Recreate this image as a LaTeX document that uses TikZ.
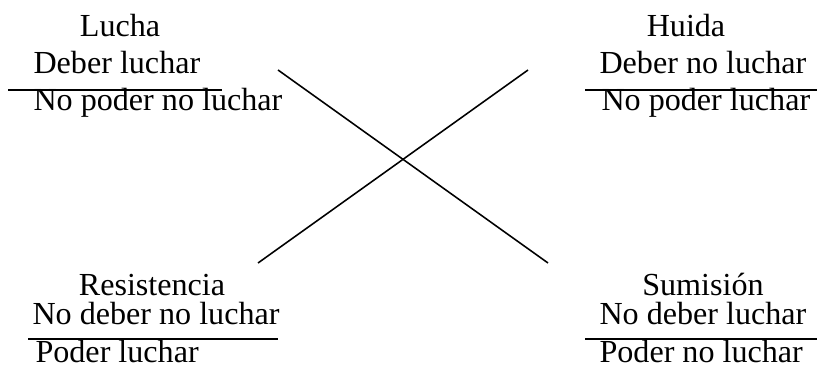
\documentclass[tikz,border=0pt]{standalone}
\usepackage{fontspec}
\setmainfont{Liberation Serif}
\begin{document}
\begin{tikzpicture}[x=0.383pt,y=-0.383pt,
  txt/.style={anchor=base west,inner sep=0pt,font=\fontsize{12.3}{14}\selectfont},
  ttl/.style={txt,anchor=base},
  bar/.style={line width=0.6pt}]
\useasboundingbox (0,0) rectangle (819,371);
% Lucha
\node[ttl] (lucha) at (120,37) {Lucha};
\node[txt] (luchaA) at (33,74) {Deber luchar};
\node[txt] (luchaB) at (33,110) {No poder no luchar};
\draw[bar] (8,90) coordinate (lbL) -- (222,90) coordinate (lbR);
% Huida
\node[ttl] (huida) at (686,37) {Huida};
\node[txt] (huidaA) at (599,74) {Deber no luchar};
\node[txt] (huidaB) at (601,110) {No poder luchar};
\draw[bar] (585,90) coordinate (hbL) -- (817,90) coordinate (hbR);
% Resistencia
\node[ttl] (resis) at (152,295) {Resistencia};
\node[txt] (resisA) at (32,324) {No deber no luchar};
\node[txt] (resisB) at (35,362) {Poder luchar};
\draw[bar] (28,339) coordinate (rbL) -- (278,339) coordinate (rbR);
% Sumision
\node[ttl] (sumis) at (703,295) {Sumisión};
\node[txt] (sumisA) at (599,324) {No deber luchar};
\node[txt] (sumisB) at (599,362) {Poder no luchar};
\draw[bar] (585,339) coordinate (sbL) -- (817,339) coordinate (sbR);
% cruz
\coordinate (xa) at (278,70);
\coordinate (xb) at (548,263);
\coordinate (xc) at (528,70);
\coordinate (xd) at (258,263);
\draw[bar] (xa) -- (xb);
\draw[bar] (xc) -- (xd);
\end{tikzpicture}
\end{document}
